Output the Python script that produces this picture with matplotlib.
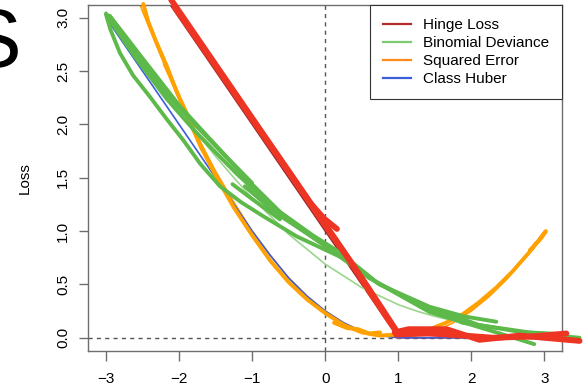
import matplotlib
matplotlib.use("Agg")
import matplotlib.pyplot as plt
from matplotlib.lines import Line2D

plt.rcParams['font.family'] = ['Liberation Sans', 'DejaVu Sans']
plt.rcParams['font.size'] = 11

# thin reference curves, read at steps of 0.25 on the margin axis
margin = [-3.0, -2.75, -2.5, -2.25, -2.0, -1.75, -1.5, -1.25, -1.0, -0.75, -0.5, -0.25,
          0.0, 0.25, 0.5, 0.75, 1.0, 1.25, 1.5, 1.75, 2.0, 2.25, 2.5, 2.75, 3.0]
hinge = [4.0, 3.75, 3.5, 3.25, 3.0, 2.75, 2.5, 2.25, 2.0, 1.75, 1.5, 1.25,
         1.0, 0.75, 0.5, 0.25, 0.0, 0.0, 0.0, 0.0, 0.0, 0.0, 0.0, 0.0, 0.0]
binomial = [3.05, 2.81, 2.58, 2.35, 2.13, 1.91, 1.70, 1.50, 1.31, 1.14, 0.97, 0.83,
            0.69, 0.58, 0.47, 0.39, 0.31, 0.25, 0.20, 0.16, 0.13, 0.10, 0.08, 0.06, 0.05]
squared = [4.0, 3.52, 3.06, 2.64, 2.25, 1.89, 1.56, 1.27, 1.0, 0.77, 0.56, 0.39,
           0.25, 0.14, 0.06, 0.02, 0.0, 0.02, 0.06, 0.14, 0.25, 0.39, 0.56, 0.77, 1.0]
huber = [3.0, 2.75, 2.5, 2.25, 2.0, 1.75, 1.5, 1.25, 1.0, 0.77, 0.56, 0.39,
         0.25, 0.14, 0.06, 0.02, 0.0, 0.0, 0.0, 0.0, 0.0, 0.0, 0.0, 0.0, 0.0]

# hand drawn strokes on top (x list, y list)
red_strokes = [
    ([-2.11, -2.05, -1.67, -1.21, -0.76, -0.39, -0.10, 0.10, 0.38, 0.61, 0.84, 0.97],
     [3.17, 3.11, 2.73, 2.27, 1.82, 1.45, 1.16, 0.96, 0.68, 0.43, 0.19, 0.06]),
    ([-2.06, -1.50, -1.00, -0.50, 0.00, 0.30, 0.51, 0.78, 0.97],
     [3.10, 2.55, 2.05, 1.56, 1.06, 0.76, 0.55, 0.27, 0.07]),
    ([-0.20, -0.02, 0.16], [1.26, 1.12, 1.02]),
    ([0.95, 1.14, 1.66, 2.11, 2.66, 3.48], [0.05, 0.08, 0.08, -0.02, 0.02, -0.03]),
    ([0.97, 1.40, 1.90, 2.30, 2.79, 3.30], [0.03, 0.04, 0.02, 0.00, 0.01, 0.04]),
]
orange_strokes = [
    ([-2.49, -2.42, -2.31, -2.17, -2.03, -1.85, -1.71, -1.50, -1.25, -1.00, -0.75, -0.50,
      -0.25, 0.00, 0.25, 0.50, 0.74, 0.98, 1.20, 1.43, 1.65, 1.88, 2.10, 2.34, 2.56, 2.79,
      3.02, 2.95, 2.80],
     [3.13, 2.96, 2.77, 2.55, 2.30, 2.04, 1.80, 1.52, 1.22, 0.96, 0.72, 0.52,
      0.36, 0.23, 0.12, 0.05, 0.02, 0.03, 0.05, 0.08, 0.14, 0.22, 0.33, 0.47, 0.62, 0.80,
      1.00, 0.93, 0.82]),
    ([-2.20, -2.05, -1.92, -1.80, -1.68], [2.57, 2.34, 2.12, 1.94, 1.76]),
    ([0.12, 0.30, 0.45, 0.60, 0.75], [0.14, 0.09, 0.08, 0.04, 0.05]),
]
green_strokes = [
    ([-3.00, -2.94, -2.81, -2.63, -2.40, -2.17, -1.94, -1.71, -1.44, -1.15, -0.85, -0.39, 0.20],
     [3.03, 2.89, 2.67, 2.46, 2.26, 2.05, 1.85, 1.63, 1.42, 1.27, 1.14, 0.95, 0.76]),
    ([-3.00, -2.60, -2.17, -1.80, -1.49, -1.12, -0.62, -0.17, 0.20, 0.74, 1.43, 1.90, 2.34],
     [3.04, 2.68, 2.29, 2.01, 1.79, 1.52, 1.18, 0.96, 0.80, 0.50, 0.29, 0.20, 0.15]),
    ([-2.98, -2.60, -2.17, -1.80, -1.49, -1.20, -0.80, -0.40, 0.06, 0.60, 1.20, 1.88, 2.79, 3.30],
     [3.01, 2.63, 2.24, 1.95, 1.73, 1.53, 1.28, 1.05, 0.83, 0.56, 0.34, 0.14, 0.05, 0.03]),
    ([-2.95, -2.50, -2.00, -1.60, -1.30, -1.00],
     [3.02, 2.62, 2.18, 1.88, 1.66, 1.45]),
    ([-1.10, -0.70, -0.30, 0.10, 0.70, 1.43, 2.34, 2.86],
     [1.42, 1.18, 1.00, 0.82, 0.52, 0.24, 0.05, -0.06]),
    ([-1.27, -1.00, -0.62], [1.44, 1.30, 1.11]),
    ([1.50, 2.10, 2.79, 3.48], [0.27, 0.12, 0.04, 0.00]),
]

labels = ["Hinge Loss", "Binomial Deviance", "Squared Error", "Class Huber"]
legend_colors = ["#B22C2C", "#7DC96E", "#FF8C1A", "#3B5FDB"]

fig = plt.figure(figsize=(5.83, 3.88), dpi=100)
ax = fig.add_axes([0.1518, 0.0966, 0.8122, 0.8905])

ax.axvline(0, color="#555555", lw=1, ls=(0, (3, 3)), zorder=1)
ax.axhline(0, color="#555555", lw=1, ls=(0, (3, 3)), zorder=1)

ax.plot(margin, hinge, color="#A52A2A", lw=1.2, zorder=2)
ax.plot(margin, binomial, color="#9AD68C", lw=1.2, zorder=2)
ax.plot(margin, squared, color="#FF9A00", lw=1.2, zorder=2)
ax.plot(margin, huber, color="#3A5FD9", lw=1.2, zorder=2)

for xs, ys in orange_strokes:
    ax.plot(xs, ys, color="#FFA100", lw=2.8, solid_capstyle="round",
            solid_joinstyle="round", clip_on=False, zorder=3)
for xs, ys in green_strokes:
    ax.plot(xs, ys, color="#5DB94A", lw=2.8, solid_capstyle="round",
            solid_joinstyle="round", clip_on=False, zorder=4)
for xs, ys in red_strokes:
    ax.plot(xs, ys, color="#EE3524", lw=4.2, solid_capstyle="round",
            solid_joinstyle="round", clip_on=False, zorder=5)

ax.set_xlim(-3.24, 3.24)
ax.set_ylim(-0.12, 3.12)
ax.set_xticks([-3, -2, -1, 0, 1, 2, 3])
ax.set_xticklabels(["\u22123", "\u22122", "\u22121", "0", "1", "2", "3"])
ax.set_yticks([0, 0.5, 1.0, 1.5, 2.0, 2.5, 3.0])
ax.set_yticklabels(["0.0", "0.5", "1.0", "1.5", "2.0", "2.5", "3.0"])
for s in ax.spines.values():
    s.set_color("#6E6E6E")
    s.set_linewidth(1)
ax.tick_params(axis="x", length=7.2, width=1, color="#6E6E6E", pad=8)
ax.tick_params(axis="y", length=6.8, width=1, color="#6E6E6E", pad=6.5, labelrotation=90)
for t in ax.get_yticklabels():
    t.set_va("center")

handles = [Line2D([], [], color=c, lw=1.6) for c in legend_colors]
leg = ax.legend(handles, labels, loc="upper right", borderaxespad=0, fancybox=False,
                framealpha=1, edgecolor="#333333", handlelength=1.85, handletextpad=0.75,
                labelspacing=0.27, borderpad=0.85, fontsize=11)
leg.get_frame().set_linewidth(0.8)
leg.set_zorder(6)

fig.text(25 / 583, 1 - 178 / 388, "Loss", rotation=90, ha="center", va="center", fontsize=11)
fig.text(21 / 583, 1 - 67 / 388, "S", fontsize=60, ha="right", va="baseline")

fig.savefig("out.png", dpi=100)
